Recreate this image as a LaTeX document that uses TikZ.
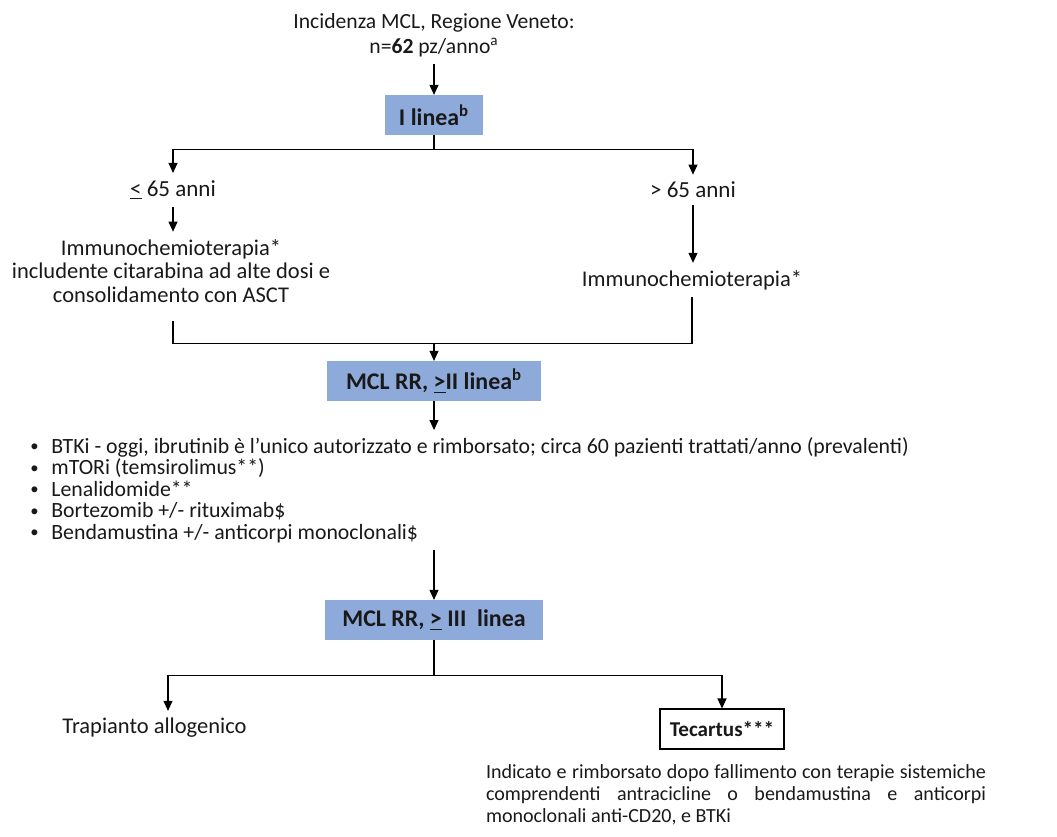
\documentclass[tikz,border=0pt]{standalone}
\usepackage{fontspec}
\setmainfont{Carlito}
\usepackage{xcolor}
\usetikzlibrary{arrows.meta, positioning, calc}
\definecolor{boxblue}{RGB}{142,170,219}
\definecolor{txtdark}{RGB}{25,25,25}
\newcommand{\fsz}[2]{\fontsize{#1}{#2}\selectfont}
\newcommand{\blt}{\makebox[0.42cm][l]{\raisebox{0.8pt}{\fsz{9.5}{9.5}\textbullet}}}
\tikzset{
  linea/.style={rectangle, fill=boxblue, minimum height=0.79cm, align=center,
                font=\fsz{13.6}{16}\bfseries, text=txtdark},
  txt/.style={align=center, text=txtdark, inner sep=4pt},
  outbox/.style={rectangle, draw=black, line width=0.6pt, fill=white,
                 minimum width=2.48cm, minimum height=0.8cm, font=\fsz{12}{14}\bfseries, text=txtdark},
  arr/.style={-{Triangle[length=2mm, width=1.8mm]}, line width=0.6pt},
  ln/.style={line width=0.6pt},
}

\begin{document}
\begin{tikzpicture}[font=\fsz{12.8}{13.6}]
\useasboundingbox (0,0) rectangle (21.14,-16.72);

% incidenza e prima linea
\node[txt, font=\fsz{12.3}{14.2}] (inc) at (8.68,-0.70) {Incidenza MCL, Regione Veneto:\\ n=\textbf{62} pz/anno\textsuperscript{a}};
\node[linea, minimum width=1.96cm] (l1) at (8.68,-2.30) {I linea\textsuperscript{b}};

% ramo per eta'
\node[txt, font=\fsz{13.1}{15}] (young) at (3.46,-3.80) {\underline{<} 65 anni};
\node[txt, font=\fsz{13.1}{15}] (old) at (13.86,-3.80) {> 65 anni};
\node[txt] (youngtx) at (3.42,-5.42) {Immunochemioterapia*\\ includente citarabina ad alte dosi e\\ consolidamento con ASCT};
\node[txt] (oldtx) at (13.84,-5.60) {Immunochemioterapia*};

% seconda linea e opzioni
\node[linea, minimum width=4.28cm] (l2) at (8.68,-7.62) {MCL RR, \underline{>}II linea\textsuperscript{b}};
\node[txt, align=left, anchor=west, font=\fsz{12.4}{12.2}] (opts) at (0.46,-9.80) {%
  \blt BTKi - oggi, ibrutinib è l’unico autorizzato e rimborsato; circa 60 pazienti trattati/anno (prevalenti)\\
  \blt mTORi (temsirolimus**)\\
  \blt Lenalidomide**\\
  \blt Bortezomib +/- rituximab\$\\
  \blt Bendamustina +/- anticorpi monoclonali\$};

% terza linea
\node[linea, minimum width=4.36cm] (l3) at (8.68,-12.40) {MCL RR, \underline{>} III\ \ linea};
\node[txt] (allo) at (3.09,-14.56) {Trapianto allogenico};
\node[outbox] (tec) at (14.44,-14.58) {Tecartus***};
\node[txt, align=justify, text width=10.0cm, font=\fsz{11.4}{12.6}] (tecdesc) at (14.72,-15.90) {\hyphenpenalty=10000 Indicato e rimborsato dopo fallimento con terapie sistemiche\linebreak comprendenti antracicline o bendamustina e anticorpi\linebreak monoclonali anti-CD20, e BTKi};

% connettori
\draw[arr] (inc) -- (l1);
\draw[ln] (l1.south) -- ++(0,-0.28) coordinate (sp1);
\draw[arr] (sp1) -| (young.north);
\draw[arr] (sp1) -| (old.north);
\draw[arr] (young.south) -- (young.south |- youngtx.north);
\draw[arr] (old.south) -- (old.south |- oldtx.north);

\coordinate (mg) at ($(l2.north)+(0,0.34)$);
\draw[ln] ([yshift=-0.22cm]young.south |- youngtx.south) |- (mg) -| (oldtx.south);
\draw[arr] (mg) -- (l2.north);

\draw[arr] (l2.south) -- (l2.south |- opts.north);
\draw[arr] (l2.south |- opts.south) -- (l3.north);

\draw[ln] (l3.south) -- ++(0,-0.70) coordinate (sp3);
\draw[arr] (sp3) -| ([xshift=0.27cm]allo.north);
\draw[arr] (sp3) -| (tec.north);
\end{tikzpicture}
\end{document}
